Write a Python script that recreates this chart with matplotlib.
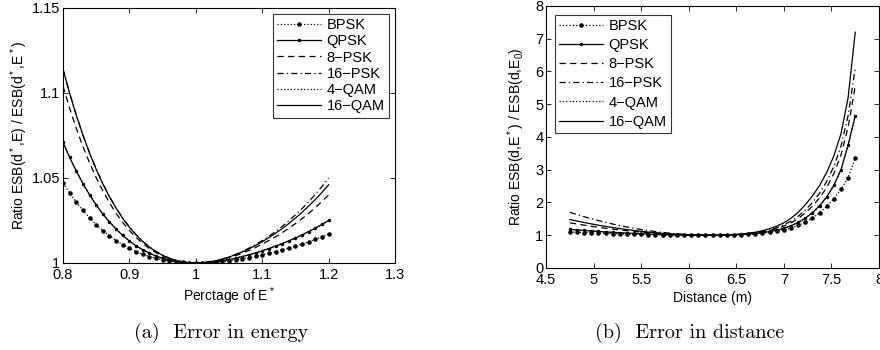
import numpy as np
import matplotlib
matplotlib.use('Agg')
import matplotlib.pyplot as plt

plt.rcParams['font.family'] = ['Liberation Sans', 'DejaVu Sans']
plt.rcParams['mathtext.default'] = 'regular'

# (a) ratio vs. fraction of optimal energy E*
e_frac = np.round(np.arange(0.80, 1.2001, 0.01), 2)
bpsk_e = [1.0470, 1.0411, 1.0358, 1.0310, 1.0266, 1.0226, 1.0191, 1.0160, 1.0132, 1.0107,
          1.0086, 1.0067, 1.0052, 1.0038, 1.0027, 1.0018, 1.0011, 1.0006, 1.0003, 1.0001,
          1.0000,
          1.0001, 1.0002, 1.0005, 1.0009, 1.0014, 1.0019, 1.0025, 1.0032, 1.0039, 1.0048,
          1.0057, 1.0067, 1.0077, 1.0088, 1.0100, 1.0112, 1.0125, 1.0139, 1.0154, 1.0170]
qpsk_e = [1.0710, 1.0621, 1.0541, 1.0467, 1.0401, 1.0341, 1.0288, 1.0241, 1.0199, 1.0162,
          1.0129, 1.0101, 1.0078, 1.0058, 1.0041, 1.0028, 1.0017, 1.0009, 1.0004, 1.0001,
          1.0000,
          1.0001, 1.0004, 1.0008, 1.0013, 1.0020, 1.0028, 1.0038, 1.0048, 1.0059, 1.0072,
          1.0085, 1.0099, 1.0114, 1.0130, 1.0147, 1.0165, 1.0185, 1.0205, 1.0227, 1.0250]
psk8_e = [1.1040, 1.0910, 1.0792, 1.0685, 1.0589, 1.0502, 1.0424, 1.0354, 1.0292, 1.0238,
          1.0191, 1.0150, 1.0115, 1.0085, 1.0061, 1.0041, 1.0025, 1.0014, 1.0006, 1.0001,
          1.0000,
          1.0001, 1.0005, 1.0012, 1.0020, 1.0031, 1.0043, 1.0058, 1.0074, 1.0091, 1.0111,
          1.0132, 1.0154, 1.0178, 1.0204, 1.0232, 1.0261, 1.0292, 1.0326, 1.0362, 1.0400]
psk16_e = [1.1140, 1.0999, 1.0870, 1.0753, 1.0648, 1.0553, 1.0467, 1.0391, 1.0323, 1.0264,
           1.0212, 1.0167, 1.0128, 1.0095, 1.0068, 1.0046, 1.0029, 1.0016, 1.0007, 1.0002,
           1.0000,
           1.0002, 1.0006, 1.0013, 1.0023, 1.0036, 1.0051, 1.0068, 1.0087, 1.0108, 1.0132,
           1.0157, 1.0185, 1.0215, 1.0248, 1.0283, 1.0320, 1.0360, 1.0404, 1.0450, 1.0500]
qam4_e = qpsk_e  # 4-QAM sits on top of QPSK
qam16_e = [1.1140, 1.0998, 1.0869, 1.0752, 1.0646, 1.0551, 1.0465, 1.0389, 1.0322, 1.0262,
           1.0210, 1.0165, 1.0127, 1.0094, 1.0067, 1.0045, 1.0028, 1.0015, 1.0007, 1.0002,
           1.0000,
           1.0002, 1.0006, 1.0013, 1.0023, 1.0035, 1.0049, 1.0065, 1.0083, 1.0103, 1.0125,
           1.0149, 1.0175, 1.0202, 1.0232, 1.0264, 1.0298, 1.0335, 1.0374, 1.0415, 1.0460]

# (b) ratio vs. distance
dist = np.round(np.arange(4.75, 7.7501, 0.075), 3)
bpsk_d = [1.100, 1.090, 1.081, 1.072, 1.064, 1.056, 1.049, 1.042, 1.036, 1.030,
          1.025, 1.020, 1.016, 1.012, 1.009, 1.006, 1.004, 1.002, 1.001, 1.000,
          1.000,
          1.002, 1.006, 1.012, 1.020, 1.030, 1.045, 1.065, 1.090, 1.120, 1.160,
          1.220, 1.300, 1.400, 1.530, 1.690, 1.880, 2.120, 2.400, 2.760, 3.350]
qpsk_d = [1.180, 1.162, 1.146, 1.130, 1.115, 1.101, 1.088, 1.076, 1.065, 1.054,
          1.045, 1.036, 1.029, 1.022, 1.016, 1.011, 1.007, 1.004, 1.002, 1.000,
          1.000,
          1.002, 1.007, 1.014, 1.024, 1.037, 1.055, 1.080, 1.110, 1.155, 1.210,
          1.290, 1.390, 1.520, 1.690, 1.900, 2.170, 2.520, 3.000, 3.750, 4.650]
psk8_d = [1.380, 1.343, 1.308, 1.275, 1.243, 1.214, 1.186, 1.161, 1.137, 1.115,
          1.095, 1.077, 1.061, 1.047, 1.034, 1.024, 1.015, 1.009, 1.004, 1.001,
          1.000,
          1.003, 1.008, 1.016, 1.028, 1.045, 1.068, 1.100, 1.145, 1.200, 1.280,
          1.380, 1.510, 1.680, 1.890, 2.140, 2.460, 2.880, 3.450, 4.300, 5.550]
psk16_d = [1.700, 1.632, 1.567, 1.506, 1.448, 1.394, 1.343, 1.296, 1.252, 1.212,
           1.175, 1.142, 1.112, 1.086, 1.063, 1.044, 1.028, 1.016, 1.007, 1.002,
           1.000,
           1.003, 1.009, 1.018, 1.031, 1.050, 1.077, 1.115, 1.165, 1.230, 1.320,
           1.430, 1.580, 1.770, 2.000, 2.280, 2.640, 3.100, 3.720, 4.650, 6.100]
qam4_d = qpsk_d  # 4-QAM sits on top of QPSK
qam16_d = [1.480, 1.433, 1.389, 1.347, 1.307, 1.270, 1.235, 1.203, 1.173, 1.145,
           1.120, 1.097, 1.077, 1.059, 1.043, 1.030, 1.019, 1.011, 1.005, 1.001,
           1.000,
           1.003, 1.010, 1.020, 1.035, 1.060, 1.090, 1.140, 1.200, 1.280, 1.380,
           1.520, 1.700, 1.930, 2.200, 2.520, 2.920, 3.420, 4.100, 5.200, 7.200]

labels = ['BPSK', 'QPSK', '8\u2212PSK', '16\u2212PSK', '4\u2212QAM', '16\u2212QAM']
styles = [dict(ls=':', marker='.', ms=4.5),
          dict(ls='-', marker='.', ms=3),
          dict(ls=(0, (5, 3.5))),
          dict(ls=(0, (5, 2.5, 1, 2.5))),
          dict(ls=':'),
          dict(ls='-')]

fig = plt.figure(figsize=(8.8, 3.5), dpi=100)
ax1 = fig.add_axes([0.0716, 0.2486, 0.3773, 0.7286])
ax2 = fig.add_axes([0.6205, 0.2343, 0.3784, 0.7486])

for ys, lab, st in zip([bpsk_e, qpsk_e, psk8_e, psk16_e, qam4_e, qam16_e], labels, styles):
    ax1.plot(e_frac, ys, color='black', lw=0.9, label=lab, **st)
for ys, lab, st in zip([bpsk_d, qpsk_d, psk8_d, psk16_d, qam4_d, qam16_d], labels, styles):
    ax2.plot(dist, ys, color='black', lw=0.9, label=lab, **st)

ax1.set_xlim(0.8, 1.3)
ax1.set_ylim(1, 1.15)
ax1.set_xticks([0.8, 0.9, 1.0, 1.1, 1.2, 1.3])
ax1.set_xticklabels(['0.8', '0.9', '1', '1.1', '1.2', '1.3'])
ax1.set_yticks([1, 1.05, 1.1, 1.15])
ax1.set_yticklabels(['1', '1.05', '1.1', '1.15'])
ax1.set_xlabel('Perctage of E$^*$', fontsize=10)
ax1.set_ylabel('Ratio ESB(d$^*$,E) / ESB(d$^*$,E$^*$)', fontsize=10)
ax1.xaxis.set_label_coords(0.5, -0.086)
ax1.yaxis.set_label_coords(-0.100, 0.5)

ax2.set_xlim(4.5, 8)
ax2.set_ylim(0, 8)
ax2.set_xticks([4.5, 5, 5.5, 6, 6.5, 7, 7.5, 8])
ax2.set_xticklabels(['4.5', '5', '5.5', '6', '6.5', '7', '7.5', '8'])
ax2.set_yticks(range(0, 9))
ax2.set_xlabel('Distance (m)', fontsize=10)
ax2.set_ylabel('Ratio ESB(d,E$^*$) / ESB(d,E$_0$)', fontsize=10)
ax2.xaxis.set_label_coords(0.5, -0.088)
ax2.yaxis.set_label_coords(-0.058, 0.5)

for ax, loc, lsp, bap in [(ax1, 'upper right', 0.15, 0.4), (ax2, 'upper left', 0.35, 0.6)]:
    ax.tick_params(direction='in', top=True, right=True, length=3.5, width=0.6,
                   labelsize=10.5, pad=2)
    ax.tick_params(axis='x', pad=3.5)
    for sp in ax.spines.values():
        sp.set_linewidth(0.8)
    leg = ax.legend(loc=loc, fontsize=10.5, frameon=True, fancybox=False,
                    edgecolor='black', handlelength=3.0, handletextpad=0.4,
                    labelspacing=lsp, borderpad=0.3, borderaxespad=bap)
    leg.get_frame().set_linewidth(0.8)

fig.text(0.251, 0.048, '(a)  Error in energy', fontsize=14.5, family='cmr10',
         ha='center', va='center')
fig.text(0.784, 0.048, '(b)  Error in distance', fontsize=14.5, family='cmr10',
         ha='center', va='center')

fig.savefig('out.png', dpi=100)
